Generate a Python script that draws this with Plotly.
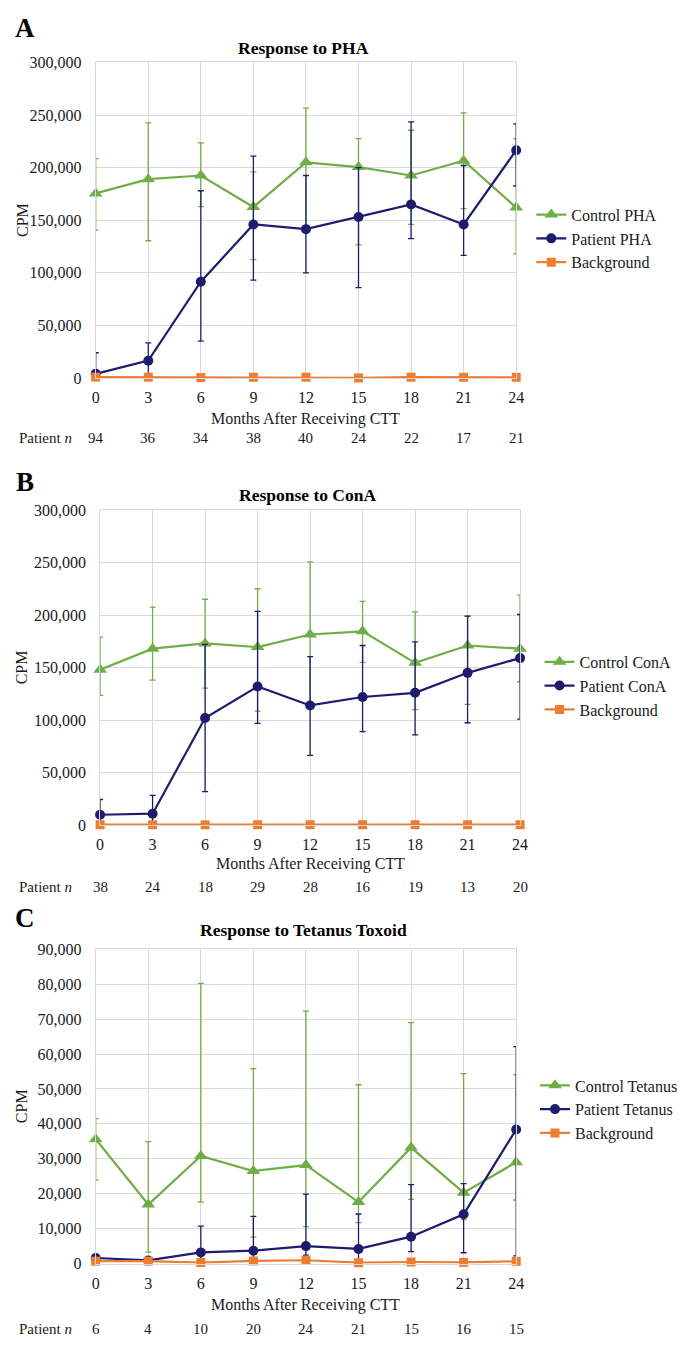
import plotly.graph_objects as go

# ---------------- data ----------------
months = [0, 3, 6, 9, 12, 15, 18, 21, 24]
month_labels = ["0", "3", "6", "9", "12", "15", "18", "21", "24"]

# Panel A: PHA
ctrl_pha = [175500, 189000, 192500, 162500, 205000, 200500, 192500, 206500, 162000]
ctrl_pha_hi = [208500, 242500, 223500, 196000, 256500, 227500, 235500, 252000, 227500]
ctrl_pha_lo = [140500, 130500, 163000, 112500, 143000, 126500, 146000, 161000, 118000]
pat_pha = [4000, 16500, 91500, 146000, 141500, 153000, 165000, 146000, 216500]
pat_pha_hi = [24000, 33500, 178000, 211000, 192500, 200000, 243500, 202000, 241500]
pat_pha_lo = [0, 3000, 35000, 93000, 100000, 86000, 132500, 116500, 182500]
bg_pha = [900, 800, 400, 700, 800, 100, 800, 700, 700]
n_pha = [94, 36, 34, 38, 40, 24, 22, 17, 21]

# Panel B: ConA
ctrl_cona = [148000, 168000, 173000, 169500, 181500, 184500, 154500, 171000, 168000]
ctrl_cona_hi = [179000, 207500, 215000, 225000, 250500, 213000, 203000, 199000, 219000]
ctrl_cona_lo = [123500, 138000, 130500, 108500, 112000, 155000, 110000, 115000, 136500]
pat_cona = [10000, 11000, 102000, 132000, 114000, 122000, 126000, 145000, 159000]
pat_cona_hi = [24500, 28500, 172000, 203500, 160500, 171000, 174500, 199000, 200500]
pat_cona_lo = [0, 0, 32000, 97000, 66500, 89000, 86000, 97500, 101000]
bg_cona = [500, 500, 400, 500, 500, 500, 500, 500, 500]
n_cona = [38, 24, 18, 29, 28, 16, 19, 13, 20]

# Panel C: Tetanus toxoid
ctrl_tet = [35600, 16900, 30800, 26500, 28200, 17600, 33200, 20300, 29000]
ctrl_tet_hi = [41500, 34900, 80200, 55800, 72300, 51200, 69000, 54400, 54100]
ctrl_tet_lo = [23900, 3300, 17600, 7600, 10600, 11700, 18400, 12600, 18200]
pat_tet = [1600, 900, 3200, 3700, 5000, 4200, 7700, 14100, 38400]
pat_tet_hi = [2400, 1400, 10700, 13500, 19900, 14200, 22600, 22900, 62100]
pat_tet_lo = [900, 400, 400, 400, 2400, 400, 3400, 3100, 2200]
bg_tet = [700, 700, 300, 750, 950, 250, 450, 350, 650]
n_tet = [6, 4, 10, 20, 24, 21, 15, 16, 15]

# ---------------- style ----------------
PAGE_MARGIN = 8            # default body margin of the html page
W, H = 691 - 2 * PAGE_MARGIN, 1349 - 2 * PAGE_MARGIN
FONT = "Liberation Serif"
GREEN = "#70ad47"
NAVY = "#1f1c6d"
ORANGE = "#ed7d31"
GRID = "#d9d9d9"
TXT = "#1a1a1a"

panels = [
    dict(letter="A", title="Response to PHA", stim="PHA",
         ctrl=ctrl_pha, chi=ctrl_pha_hi, clo=ctrl_pha_lo,
         pat=pat_pha, phi=pat_pha_hi, plo=pat_pha_lo, bg=bg_pha, n=n_pha,
         ymax=300000, dtick=50000,
         px=(94, 526), py=(55, 374.7), title_y=40, letter_y=20,
         xlab_y=416, n_y=435, legend_y=192, legend_x=541.5, legend_fs=16),
    dict(letter="B", title="Response to ConA", stim="ConA",
         ctrl=ctrl_cona, chi=ctrl_cona_hi, clo=ctrl_cona_lo,
         pat=pat_cona, phi=pat_cona_hi, plo=pat_cona_lo, bg=bg_cona, n=n_cona,
         ymax=300000, dtick=50000,
         px=(98.5, 530), py=(508.3, 827.7), title_y=493, letter_y=480,
         xlab_y=867, n_y=890, legend_y=645, legend_x=550, legend_fs=16),
    dict(letter="C", title="Response to Tetanus Toxoid", stim="Tetanus",
         ctrl=ctrl_tet, chi=ctrl_tet_hi, clo=ctrl_tet_lo,
         pat=pat_tet, phi=pat_tet_hi, plo=pat_tet_lo, bg=bg_tet, n=n_tet,
         ymax=90000, dtick=10000,
         px=(94, 526), py=(953.3, 1271.7), title_y=934, letter_y=922,
         xlab_y=1314, n_y=1338, legend_y=1074, legend_x=545.5, legend_fs=16),
]

fig = go.Figure()
annotations = []
layout_axes = {}


def fx(x):
    return (x - PAGE_MARGIN) / W


def fy(y):
    return 1 - (y - PAGE_MARGIN) / H


for i, p in enumerate(panels):
    k = "" if i == 0 else str(i + 1)
    xa, ya = "x" + k, "y" + k
    leg = "legend" + k

    def err(vals, hi, lo):
        return dict(type="data", symmetric=False,
                    array=[h - v for h, v in zip(hi, vals)],
                    arrayminus=[v - l for v, l in zip(vals, lo)],
                    thickness=1.3, width=3)

    fig.add_trace(go.Scatter(
        x=months, y=p["ctrl"], name="Control " + p["stim"], mode="lines+markers",
        line=dict(color=GREEN, width=2.2),
        marker=dict(symbol="triangle-up", size=12, color=GREEN),
        error_y=dict(err(p["ctrl"], p["chi"], p["clo"]), color=GREEN),
        xaxis=xa, yaxis=ya, legend=leg, cliponaxis=False))
    fig.add_trace(go.Scatter(
        x=months, y=p["pat"], name="Patient " + p["stim"], mode="lines+markers",
        line=dict(color=NAVY, width=2.2),
        marker=dict(symbol="circle", size=10, color=NAVY),
        error_y=dict(err(p["pat"], p["phi"], p["plo"]), color=NAVY),
        xaxis=xa, yaxis=ya, legend=leg, cliponaxis=False))
    fig.add_trace(go.Scatter(
        x=months, y=p["bg"], name="Background", mode="lines+markers",
        line=dict(color=ORANGE, width=2.2),
        marker=dict(symbol="square", size=9, color=ORANGE),
        xaxis=xa, yaxis=ya, legend=leg, cliponaxis=False))

    x0, x1 = p["px"]
    ytop, ybot = p["py"]
    layout_axes["xaxis" + k] = dict(
        domain=[fx(x0), fx(x1)], range=[0, 24], anchor=ya,
        tickmode="array", tickvals=months, ticktext=month_labels,
        showgrid=True, gridcolor=GRID, gridwidth=1, zeroline=False,
        showline=True, linecolor=GRID, mirror=True,
        ticks="", ticklabelstandoff=5,
        tickfont=dict(family=FONT, size=16, color=TXT))
    layout_axes["yaxis" + k] = dict(
        domain=[fy(ybot), fy(ytop)], range=[0, p["ymax"]], anchor=xa,
        tickmode="linear", tick0=0, dtick=p["dtick"], tickformat=",",
        showgrid=True, gridcolor=GRID, gridwidth=1, zeroline=False,
        showline=True, linecolor=GRID, mirror=True,
        ticks="", ticklabelstandoff=10,
        tickfont=dict(family=FONT, size=16, color=TXT))

    cx = (x0 + x1) / 2
    annotations.append(dict(text="<b>%s</b>" % p["letter"], x=fx(21), y=fy(p["letter_y"]),
                            xref="paper", yref="paper", xanchor="center", yanchor="middle",
                            showarrow=False, font=dict(family=FONT, size=27, color="black")))
    annotations.append(dict(text="<b>%s</b>" % p["title"], x=fx(cx - 3), y=fy(p["title_y"]),
                            xref="paper", yref="paper", xanchor="center", yanchor="middle",
                            showarrow=False, font=dict(family=FONT, size=17.5, color="black")))
    annotations.append(dict(text="CPM", x=fx(18), y=fy((ytop + ybot) / 2),
                            xref="paper", yref="paper", xanchor="center", yanchor="middle",
                            textangle=-90, showarrow=False,
                            font=dict(family=FONT, size=16, color=TXT)))
    annotations.append(dict(text="Months After Receiving CTT", x=fx(cx), y=fy(p["xlab_y"]),
                            xref="paper", yref="paper", xanchor="center", yanchor="middle",
                            showarrow=False, font=dict(family=FONT, size=16, color=TXT)))
    annotations.append(dict(text="Patient <i>n</i>", x=fx(13), y=fy(p["n_y"]),
                            xref="paper", yref="paper", xanchor="left", yanchor="middle",
                            showarrow=False, font=dict(family=FONT, size=15, color=TXT)))
    for m, nv in zip(months, p["n"]):
        annotations.append(dict(text=str(nv), x=m, y=fy(p["n_y"]),
                                xref=xa, yref="paper", xanchor="center", yanchor="middle",
                                showarrow=False, font=dict(family=FONT, size=15, color=TXT)))

    layout_axes[leg] = dict(
        x=fx(p["legend_x"]), y=fy(p["legend_y"]), xanchor="left", yanchor="top",
        font=dict(family=FONT, size=p["legend_fs"], color=TXT), bgcolor="rgba(0,0,0,0)",
        tracegroupgap=0, itemwidth=30)

fig.update_layout(
    width=W, height=H, margin=dict(l=0, r=0, t=0, b=0),
    paper_bgcolor="white", plot_bgcolor="white",
    showlegend=True, annotations=annotations,
    font=dict(family=FONT, size=16, color=TXT),
    **layout_axes)

fig.write_html("out.html", config={"displayModeBar": False})
